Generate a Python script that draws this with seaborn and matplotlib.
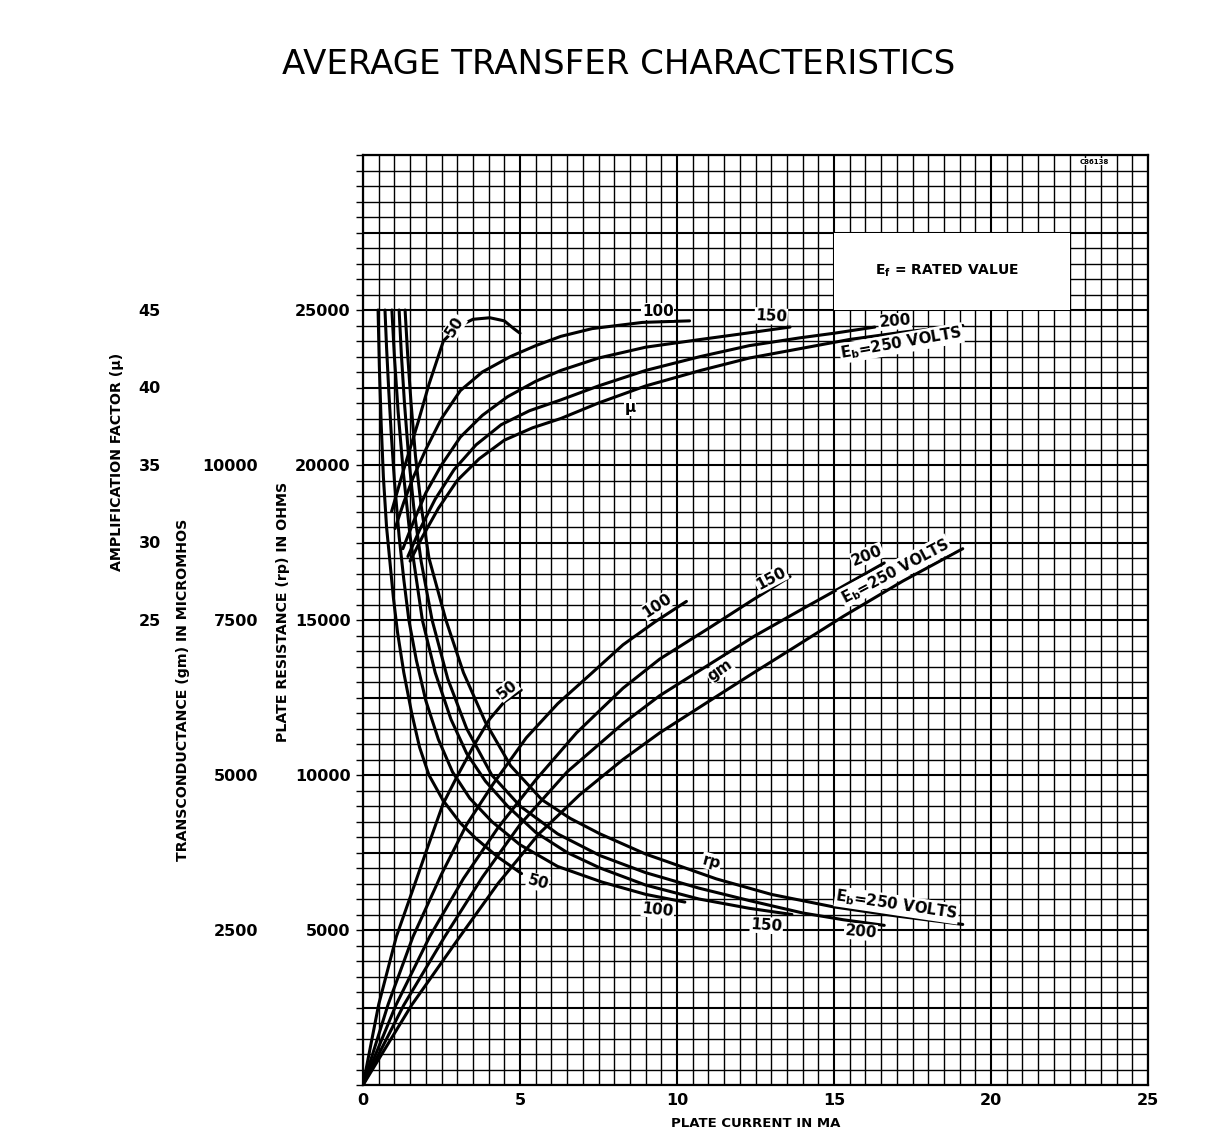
import numpy as np
import pandas as pd
import matplotlib
matplotlib.use("Agg")
import matplotlib.pyplot as plt
import seaborn as sns
from matplotlib.ticker import MultipleLocator, FuncFormatter, FixedLocator
from matplotlib.patches import Rectangle

TITLE = "AVERAGE TRANSFER CHARACTERISTICS"
X_LABEL = "PLATE CURRENT IN MA"
RP_LABEL = "PLATE RESISTANCE (rp) IN OHMS"
GM_LABEL = "TRANSCONDUCTANCE (gm) IN MICROMHOS"
MU_LABEL = "AMPLIFICATION FACTOR (\u00b5)"
X_TICKS = [0, 5, 10, 15, 20, 25]
RP_TICKS = [5000, 10000, 15000, 20000, 25000]
GM_TICKS = [2500, 5000, 7500, 10000]
MU_TICKS = [25, 30, 35, 40, 45]
EB_LEVELS = [50, 100, 150, 200, 250]

# ---- plate resistance rp (ohms) vs plate current (mA) ----
RP50_I = [0.48, 0.52, 0.58, 0.65, 0.75, 0.86, 0.97, 1.10, 1.30, 1.55, 1.80, 2.10, 2.55, 3.10, 3.60, 4.30, 5.05]
RP50_V = [25000, 23200, 21300, 19600, 18000, 16850, 15700, 14600, 13300, 12000, 10900, 10000, 9180, 8450, 7950, 7350, 6820]
RP100_I = [0.70, 0.75, 0.82, 0.90, 1.00, 1.15, 1.30, 1.46, 1.70, 2.00, 2.40, 2.85, 3.40, 4.10, 5.00, 6.20, 7.60, 9.00, 10.25]
RP100_V = [25000, 23800, 22400, 21000, 19500, 17700, 16300, 15000, 13700, 12400, 11150, 10100, 9250, 8500, 7750, 7050, 6550, 6150, 5900]
RP150_I = [0.92, 1.00, 1.12, 1.28, 1.50, 1.89, 2.30, 2.80, 3.30, 3.90, 4.60, 5.50, 6.50, 7.55, 9.00, 10.70, 12.30, 13.66]
RP150_V = [25000, 23500, 21700, 19800, 17700, 15000, 13300, 11800, 10700, 9800, 9000, 8150, 7500, 7000, 6450, 6000, 5700, 5500]
RP200_I = [1.15, 1.22, 1.32, 1.45, 1.62, 1.85, 2.20, 2.70, 3.30, 4.10, 5.00, 6.20, 7.55, 9.00, 10.70, 12.30, 14.00, 15.30, 16.60]
RP200_V = [25000, 23600, 22000, 20300, 18600, 16900, 15000, 13100, 11500, 10000, 9000, 8100, 7400, 6850, 6350, 5950, 5550, 5330, 5150]
RP250_I = [1.34, 1.42, 1.53, 1.67, 1.85, 2.10, 2.64, 3.20, 3.90, 4.70, 5.70, 6.60, 7.55, 9.00, 11.25, 13.00, 14.96, 17.00, 19.10]
RP250_V = [25000, 23600, 22000, 20300, 18700, 17000, 15000, 13300, 11700, 10300, 9200, 8600, 8100, 7450, 6650, 6150, 5750, 5450, 5180]

# ---- amplification factor mu vs plate current (mA) ----
MU50_I = [0.91, 1.28, 1.76, 2.10, 2.56, 3.00, 3.50, 4.04, 4.50, 4.80, 5.00]
MU50_V = [32.0, 34.6, 37.8, 40.2, 43.0, 43.9, 44.4, 44.5, 44.3, 43.8, 43.5]
MU100_I = [1.02, 1.30, 1.60, 2.00, 2.50, 3.10, 3.80, 4.70, 5.50, 6.30, 7.30, 8.90, 10.40]
MU100_V = [30.9, 32.6, 34.2, 36.0, 38.0, 39.8, 41.0, 42.0, 42.7, 43.3, 43.8, 44.2, 44.3]
MU150_I = [1.27, 1.60, 2.00, 2.50, 3.10, 3.80, 4.60, 5.50, 6.30, 7.50, 9.00, 10.75, 12.20, 13.60]
MU150_V = [29.6, 31.3, 33.2, 35.0, 36.8, 38.2, 39.4, 40.4, 41.1, 41.9, 42.6, 43.1, 43.5, 43.9]
MU200_I = [1.43, 1.80, 2.30, 2.90, 3.60, 4.40, 5.30, 6.30, 7.50, 9.00, 10.75, 12.30, 13.90, 15.00, 16.30]
MU200_V = [29.1, 30.8, 32.8, 34.7, 36.3, 37.6, 38.5, 39.2, 40.1, 41.1, 42.0, 42.7, 43.2, 43.5, 43.9]
MU250_I = [1.50, 1.90, 2.40, 3.00, 3.70, 4.50, 5.40, 6.30, 7.50, 9.00, 10.75, 12.30, 13.90, 15.50, 17.30, 19.10]
MU250_V = [28.8, 30.4, 32.2, 34.0, 35.4, 36.6, 37.4, 38.0, 39.0, 40.1, 41.1, 41.9, 42.5, 43.1, 43.6, 44.0]

# ---- transconductance gm (micromhos) vs plate current (mA) ----
GM50_I = [0.0, 0.50, 1.06, 1.59, 2.00, 2.55, 3.00, 3.50, 4.03, 4.50, 5.04]
GM50_V = [0, 1300, 2390, 3155, 3750, 4535, 4980, 5450, 5900, 6180, 6370]
GM100_I = [0.0, 0.80, 1.59, 2.50, 3.30, 4.15, 5.20, 6.20, 7.30, 8.28, 9.30, 10.30]
GM100_V = [0, 1300, 2390, 3400, 4200, 4860, 5600, 6150, 6650, 7100, 7470, 7800]
GM150_I = [0.0, 1.05, 2.12, 3.20, 4.30, 5.50, 6.80, 8.28, 9.45, 11.05, 12.40, 13.60]
GM150_V = [0, 1290, 2390, 3330, 4150, 4920, 5680, 6400, 6870, 7380, 7820, 8200]
GM200_I = [0.0, 1.30, 2.60, 3.80, 5.00, 6.50, 8.28, 9.45, 11.05, 12.50, 14.00, 15.10, 16.60]
GM200_V = [0, 1290, 2390, 3350, 4200, 5050, 5830, 6280, 6790, 7250, 7680, 7990, 8420]
GM250_I = [0.0, 1.55, 3.08, 4.30, 5.60, 6.90, 8.28, 9.45, 11.05, 12.35, 13.80, 15.30, 17.20, 19.10]
GM250_V = [0, 1290, 2390, 3250, 4050, 4680, 5250, 5680, 6200, 6620, 7080, 7560, 8130, 8650]

RP_CURVES = {50: (RP50_I, RP50_V), 100: (RP100_I, RP100_V), 150: (RP150_I, RP150_V),
             200: (RP200_I, RP200_V), 250: (RP250_I, RP250_V)}
MU_CURVES = {50: (MU50_I, MU50_V), 100: (MU100_I, MU100_V), 150: (MU150_I, MU150_V),
             200: (MU200_I, MU200_V), 250: (MU250_I, MU250_V)}
GM_CURVES = {50: (GM50_I, GM50_V), 100: (GM100_I, GM100_V), 150: (GM150_I, GM150_V),
             200: (GM200_I, GM200_V), 250: (GM250_I, GM250_V)}


# scale relations of the three left-hand scales (all plotted on the rp scale)
def gm_to_rp(g):
    return np.asarray(g, dtype=float) * 2.0


def rp_to_gm(r):
    return np.asarray(r, dtype=float) / 2.0


def mu_to_rp(m):
    return (np.asarray(m, dtype=float) + 5.0) * 500.0


def rp_to_mu(r):
    return np.asarray(r, dtype=float) / 500.0 - 5.0


rows = []
for eb in EB_LEVELS:
    for fam, curves, conv in (("rp", RP_CURVES, lambda v: np.asarray(v, float)),
                              ("mu", MU_CURVES, mu_to_rp),
                              ("gm", GM_CURVES, gm_to_rp)):
        xi, vi = curves[eb]
        for k, (a, b) in enumerate(zip(xi, conv(vi))):
            rows.append({"curve": f"{fam}{eb}", "family": fam, "eb": eb,
                         "order": k, "current": a, "plot_y": b})
df = pd.DataFrame(rows)

sns.set_theme(style="white")
plt.rcParams["font.family"] = ["DejaVu Sans"]
plt.rcParams["font.weight"] = "bold"
plt.rcParams["axes.labelweight"] = "bold"
for key in ("text.color", "axes.labelcolor", "xtick.color", "ytick.color"):
    plt.rcParams[key] = "black"

W, H = 1222, 1146
fig = plt.figure(figsize=(W / 100, H / 100), dpi=100)
fig.patch.set_facecolor("white")
L, R, B, T = 363, 1148, 1085, 155
ax = fig.add_axes([L / W, 1 - B / H, (R - L) / W, (B - T) / H])
ax.set_facecolor("white")

sns.lineplot(data=df, x="current", y="plot_y", units="curve", estimator=None,
             sort=False, color="black", linewidth=2.2, legend=False, ax=ax, zorder=3)

ax.set_xlim(0, 25)
ax.set_ylim(0, 30000)
ax.xaxis.set_major_locator(FixedLocator(X_TICKS))
ax.xaxis.set_minor_locator(MultipleLocator(0.5))
ax.yaxis.set_major_locator(MultipleLocator(2500))
ax.yaxis.set_minor_locator(MultipleLocator(500))
ax.set_axisbelow(True)
ax.grid(which="minor", color="black", linewidth=1.0)
ax.grid(which="major", color="black", linewidth=1.5)
ax.yaxis.set_major_formatter(FuncFormatter(
    lambda v, p: f"{int(round(v))}" if int(round(v)) in RP_TICKS else ""))
ax.tick_params(axis="x", which="both", length=0, pad=6, labelsize=11.5)
ax.tick_params(axis="y", which="both", direction="out", length=5, width=1.0,
               color="black", pad=4, labelsize=11.5, left=True)
for s in ax.spines.values():
    s.set_visible(True)
    s.set_color("black")
    s.set_linewidth(1.6)

LABEL_FS = 10.2
ax.set_xlabel(X_LABEL, fontsize=9.5, fontweight="bold", labelpad=6)
ax.set_ylabel(RP_LABEL, fontsize=LABEL_FS, fontweight="bold")
ax.yaxis.set_label_coords(283 / W, 1 - 612 / H, transform=fig.transFigure)
ax.yaxis.label.set_va("center")

# secondary scales on the left
ax_gm = ax.secondary_yaxis((258 - L) / (R - L), functions=(rp_to_gm, gm_to_rp))
ax_gm.set_yticks(GM_TICKS)
ax_gm.set_yticklabels([str(v) for v in GM_TICKS])
ax_gm.tick_params(length=0, pad=0, labelsize=11.5)
ax_gm.set_ylabel(GM_LABEL, fontsize=LABEL_FS, fontweight="bold")
ax_gm.yaxis.set_label_coords(183 / W, 1 - 690 / H, transform=fig.transFigure)
ax_gm.yaxis.label.set_va("center")
for s in ax_gm.spines.values():
    s.set_visible(False)

ax_mu = ax.secondary_yaxis((161 - L) / (R - L), functions=(rp_to_mu, mu_to_rp))
ax_mu.set_yticks(MU_TICKS)
ax_mu.set_yticklabels([str(v) for v in MU_TICKS])
ax_mu.tick_params(length=0, pad=0, labelsize=11.5)
ax_mu.set_ylabel(MU_LABEL, fontsize=LABEL_FS, fontweight="bold")
ax_mu.yaxis.set_label_coords(117 / W, 1 - 462 / H, transform=fig.transFigure)
ax_mu.yaxis.label.set_va("center")
for s in ax_mu.spines.values():
    s.set_visible(False)

# rated-value box
ax.add_patch(Rectangle((15, 25000), 7.5, 2500, facecolor="white",
                       edgecolor="none", zorder=2))
ax.text(18.6, 26250, r"E$_{\mathbf{f}}$ = RATED VALUE", ha="center", va="center",
        fontsize=10, fontweight="bold", zorder=4)
ax.text(23.3, 29780, "C86138", ha="center", va="center", fontsize=5,
        fontweight="bold", zorder=4,
        bbox=dict(facecolor="white", edgecolor="none", pad=0.3))

lab_kw = dict(ha="center", va="center", fontweight="bold", zorder=5,
              bbox=dict(facecolor="white", edgecolor="none", pad=0.6))
EB250 = r"E$_{\mathbf{b}}$=250 VOLTS"
LABELS = [
    # mu family
    ("50", 2.93, 24470, 58, 11), ("100", 9.39, 24950, 0, 11), ("150", 13.0, 24800, -3, 11),
    ("200", 16.94, 24630, 5, 11), (EB250, 17.15, 23930, 10, 10.8), ("\u00b5", 8.5, 21850, 0, 11),
    # gm family
    ("50", 4.59, 12760, 38, 11), ("100", 9.36, 15460, 33, 11), ("150", 13.0, 16330, 28, 11),
    ("200", 16.05, 17080, 22, 11), (EB250, 16.95, 16580, 28, 10.5), ("gm", 11.37, 13380, 35, 11),
    # rp family
    ("50", 5.57, 6540, -15, 11), ("100", 9.39, 5650, -6, 11), ("150", 12.85, 5150, -4, 11),
    ("200", 15.85, 4940, -5, 11), ("rp", 11.1, 7200, -15, 11), (EB250, 17.0, 5800, -8.5, 10.8),
]
for txt, lx, ly, rot, fs in LABELS:
    ax.text(lx, ly, txt, rotation=rot, rotation_mode="anchor", fontsize=fs, **lab_kw)

fig.text(619 / W, 1 - 64 / H, TITLE, ha="center", va="center", fontsize=24.5,
         fontweight="normal", color="black")

fig.savefig("out.png", dpi=100, facecolor="white")
